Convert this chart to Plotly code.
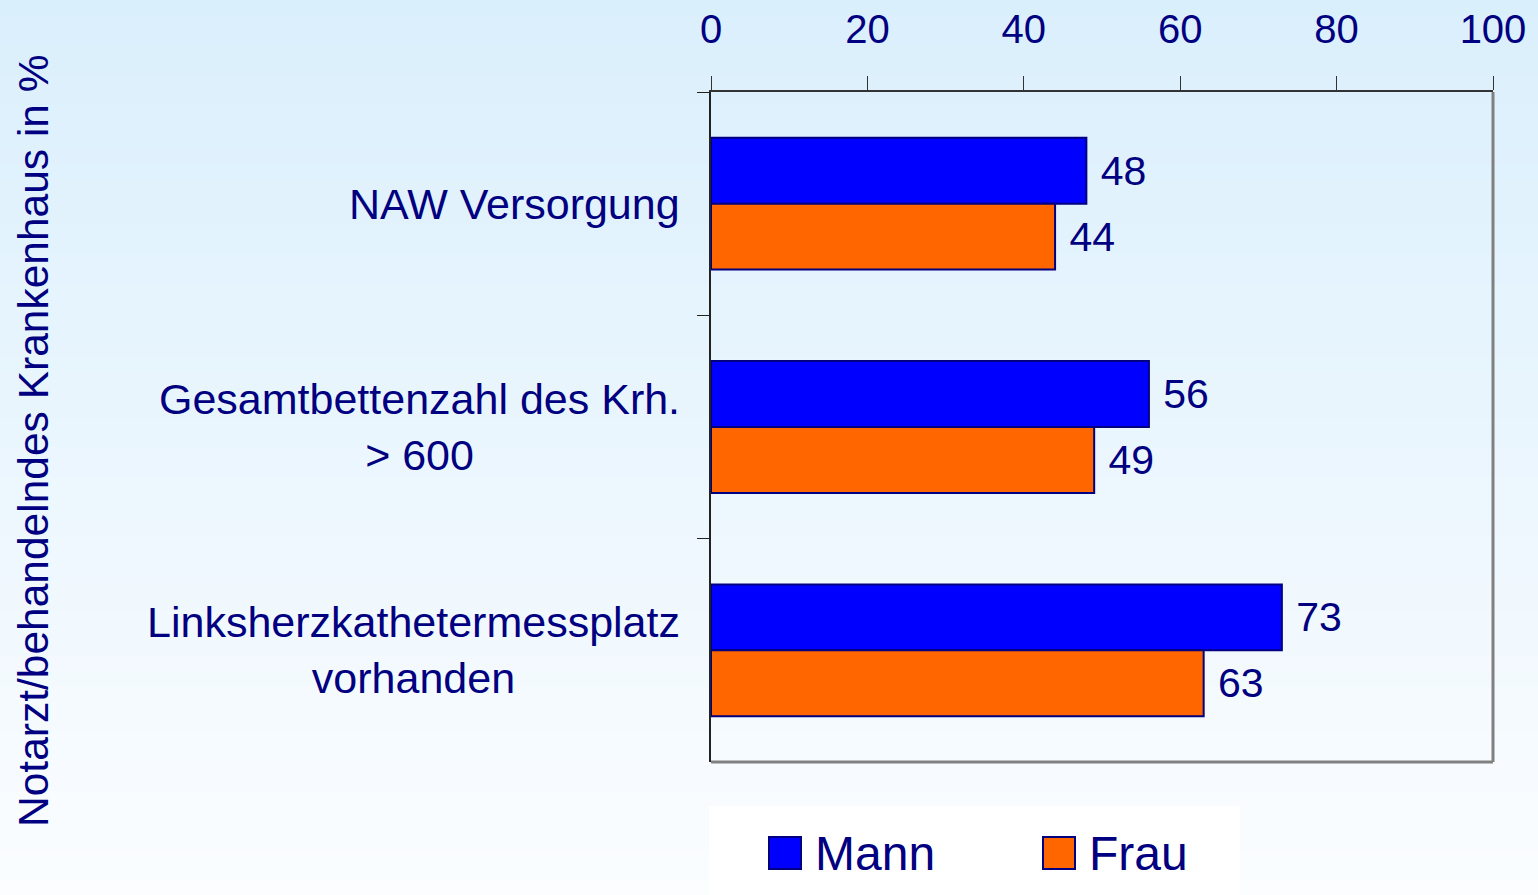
import plotly.graph_objects as go

categories = ["NAW Versorgung", "Gesamtbettenzahl des Krh.<br>> 600", "Linksherzkathetermessplatz<br>vorhanden"]
mann = [48, 56, 73]
frau = [44, 49, 63]
series_names = ["Mann", "Frau"]
tick_vals = [0, 20, 40, 60, 80, 100]
axis_title = "Notarzt/behandelndes Krankenhaus in %"

NAVY = "#000080"
FONT = "Liberation Sans, Arial, sans-serif"
W, H = 1538, 895
ML, MR, MT, MB = 711, 45, 92, 133
PW, PH = W - ML - MR, H - MT - MB

def px_to_paper_x(px):
    return (px - ML) / PW

def px_to_paper_y(py):
    return (H - MB - py) / PH

fig = go.Figure()
fig.add_trace(go.Bar(
    y=categories, x=mann, name=series_names[0], orientation="h",
    marker=dict(color="#0000FF", line=dict(color=NAVY, width=2)),
    text=mann, texttemplate=" %{x}", textposition="outside",
    textfont=dict(size=41, color=NAVY, family=FONT), cliponaxis=False,
))
fig.add_trace(go.Bar(
    y=categories, x=frau, name=series_names[1], orientation="h",
    marker=dict(color="#FF6600", line=dict(color=NAVY, width=2)),
    text=frau, texttemplate=" %{x}", textposition="outside",
    textfont=dict(size=41, color=NAVY, family=FONT), cliponaxis=False,
))

shapes = []
# background gradient
n = 60
top = (218, 239, 252)
bot = (251, 253, 255)
for i in range(n):
    t = i / (n - 1)
    c = tuple(round(top[k] + (bot[k] - top[k]) * t) for k in range(3))
    y0 = i * H / n
    y1 = (i + 1) * H / n + 1
    shapes.append(dict(type="rect", xref="paper", yref="paper",
                       x0=px_to_paper_x(0), x1=px_to_paper_x(W),
                       y0=px_to_paper_y(y1), y1=px_to_paper_y(y0),
                       line=dict(width=0), fillcolor="rgb(%d,%d,%d)" % c, layer="below"))
# plot border right/bottom gray
shapes.append(dict(type="line", xref="paper", yref="paper", x0=1, x1=1, y0=0, y1=1,
                   line=dict(color="#808080", width=3), layer="below"))
shapes.append(dict(type="line", xref="paper", yref="paper", x0=0, x1=1, y0=0, y1=0,
                   line=dict(color="#808080", width=3), layer="below"))
# legend box
shapes.append(dict(type="rect", xref="paper", yref="paper",
                   x0=px_to_paper_x(709), x1=px_to_paper_x(1240),
                   y0=px_to_paper_y(900), y1=px_to_paper_y(806),
                   line=dict(width=0), fillcolor="white", layer="below"))
shapes.append(dict(type="rect", xref="paper", yref="paper",
                   x0=px_to_paper_x(769), x1=px_to_paper_x(801),
                   y0=px_to_paper_y(869), y1=px_to_paper_y(837),
                   line=dict(color=NAVY, width=2), fillcolor="#0000FF", layer="above"))
shapes.append(dict(type="rect", xref="paper", yref="paper",
                   x0=px_to_paper_x(1043), x1=px_to_paper_x(1075),
                   y0=px_to_paper_y(869), y1=px_to_paper_y(837),
                   line=dict(color=NAVY, width=2), fillcolor="#FF6600", layer="above"))

annotations = []
for cat in categories:
    annotations.append(dict(x=0, xref="paper", y=cat, yref="y", text=cat,
                            xanchor="right", yanchor="middle", xshift=-29,
                            align="center", showarrow=False,
                            font=dict(size=43, color=NAVY, family=FONT)))
annotations.append(dict(x=px_to_paper_x(33), xref="paper", y=px_to_paper_y(441), yref="paper",
                        text=axis_title, textangle=-90, showarrow=False,
                        xanchor="center", yanchor="middle",
                        font=dict(size=42.5, color=NAVY, family=FONT)))
annotations.append(dict(x=px_to_paper_x(813), xref="paper", y=px_to_paper_y(853), yref="paper",
                        text=series_names[0], showarrow=False, xanchor="left", yanchor="middle",
                        font=dict(size=48, color=NAVY, family=FONT)))
annotations.append(dict(x=px_to_paper_x(1087), xref="paper", y=px_to_paper_y(853), yref="paper",
                        text=series_names[1], showarrow=False, xanchor="left", yanchor="middle",
                        font=dict(size=48, color=NAVY, family=FONT)))

fig.update_layout(
    width=W, height=H,
    margin=dict(l=ML, r=MR, t=MT, b=MB, autoexpand=False),
    paper_bgcolor="rgba(0,0,0,0)", plot_bgcolor="rgba(0,0,0,0)",
    barmode="group", bargap=0.41, bargroupgap=0,
    showlegend=False,
    font=dict(family=FONT, color=NAVY),
    xaxis=dict(side="top", range=[0, 100], tickvals=tick_vals,
               ticks="outside", ticklen=14, tickwidth=1, tickcolor="#333333",
               tickfont=dict(size=40, color=NAVY, family=FONT),
               showline=True, linecolor="#333333", linewidth=2,
               showgrid=False, zeroline=False, ticklabelstandoff=17),
    yaxis=dict(type="category", autorange="reversed", showticklabels=False,
               ticks="outside", tickson="boundaries", ticklen=12, tickwidth=1,
               tickcolor="#222222", showline=True, linecolor="#222222", linewidth=2,
               showgrid=False, zeroline=False),
    shapes=shapes, annotations=annotations,
)

fig.write_html("out.html", config={"displayModeBar": False},
               post_script="document.body.style.margin='0';document.body.style.overflow='hidden';")
